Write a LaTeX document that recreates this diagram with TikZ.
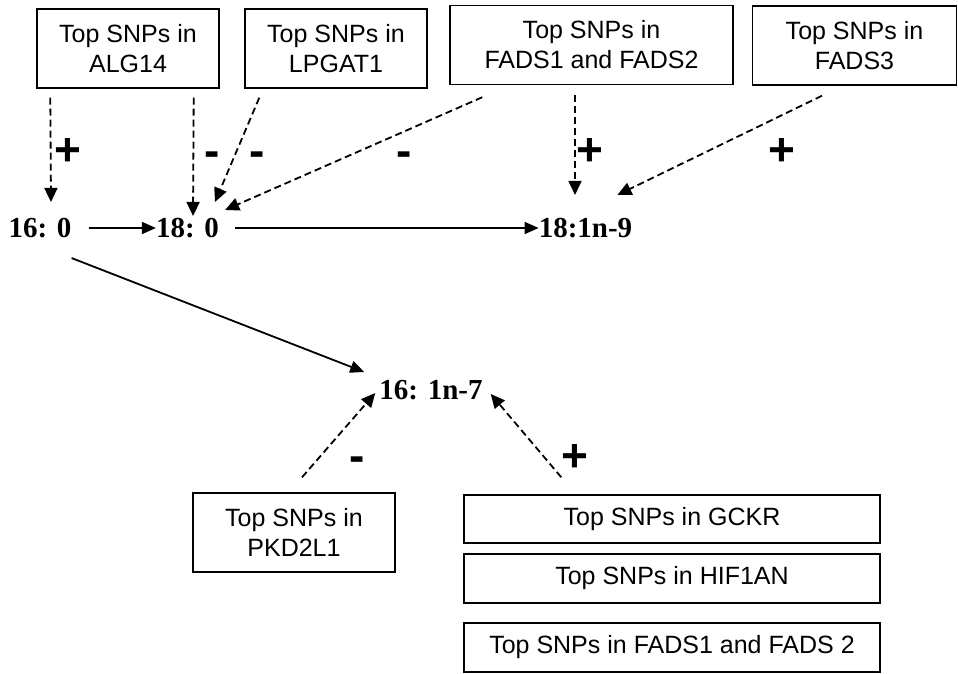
\documentclass[tikz,border=0pt]{standalone}
\usepackage{fontspec}
\setmainfont{Liberation Serif}
\setsansfont{Liberation Sans}
\usetikzlibrary{arrows.meta}
\begin{document}
\begin{tikzpicture}[x=1pt,y=1pt,
  box/.style={draw,line width=1.4pt,inner sep=0pt,align=center,font=\sffamily\fontsize{25}{30}\selectfont},
  acid/.style={inner sep=0pt,font=\bfseries\fontsize{29}{30}\selectfont},
  sgn/.style={inner sep=0pt,font=\sffamily\bfseries\fontsize{46}{46}\selectfont},
  solidarr/.style={line width=1.8pt,-{Triangle[length=14pt,width=12pt]}},
  dasharr/.style={line width=1.8pt,dash pattern=on 7pt off 4pt,-{Triangle[length=14pt,width=13pt]}}]
\useasboundingbox (0,0) rectangle (958,-673);
% boxes
\node[box,minimum width=182pt,minimum height=79pt] (alg) at (128,-48.5) {Top SNPs in\\ALG14};
\node[box,minimum width=182pt,minimum height=79pt] (lpg) at (336,-48.5) {Top SNPs in\\LPGAT1};
\node[box,minimum width=283pt,minimum height=79pt] (fab) at (591.5,-45) {Top SNPs in\\FADS1 and FADS2};
\node[box,minimum width=204pt,minimum height=79pt] (fc) at (854.5,-45.5) {Top SNPs in\\FADS3};
\node[box,minimum width=202pt,minimum height=79pt] (pkd) at (294,-532.5) {Top SNPs in\\PKD2L1};
\node[box,minimum width=416pt,minimum height=48pt] (gck) at (672,-519) {Top SNPs in GCKR};
\node[box,minimum width=416pt,minimum height=49pt] (hif) at (672,-578.5) {Top SNPs in HIF1AN};
\node[box,minimum width=416pt,minimum height=49pt] (fad) at (672,-647.5) {Top SNPs in FADS1 and FADS 2};
% acids
\node[acid] (a160) at (40,-228) {16: 0};
\node[acid] (a180) at (187.5,-228) {18: 0};
\node[acid] (a181) at (585.5,-228) {18:1n-9};
\node[acid] (a161) at (431,-390) {16: 1n-7};
% solid arrows
\draw[solidarr,shorten <=17pt] (a160.east) -- (a180.west);
\draw[solidarr,shorten <=16pt] (a180.east) -- (a181.west);
\draw[solidarr] ([yshift=-20pt]a160.south east) -- ([shift={(-15pt,8pt)}]a161.north west);
% dashed arrows
\draw[dasharr] ([shift={(14pt,-9pt)}]alg.south west) -- ([shift={(11pt,16pt)}]a160.north);
\draw[dasharr] ([shift={(-26pt,-9pt)}]alg.south east) -- ([shift={(5.5pt,2pt)}]a180.north);
\draw[dasharr] ([shift={(15pt,-9pt)}]lpg.south west) -- ([shift={(27.5pt,16pt)}]a180.north);
\draw[dasharr] ([shift={(33pt,-12pt)}]fab.south west) -- ([shift={(6pt,8pt)}]a180.north east);
\draw[dasharr] ([shift={(-16.5pt,-10pt)}]fab.south) -- ([shift={(-10.5pt,23pt)}]a181.north);
\draw[dasharr] ([shift={(-32.5pt,-10pt)}]fc.south) -- ([shift={(-15pt,23pt)}]a181.north east);
\draw[dasharr] ([shift={(8pt,15pt)}]pkd.north) -- ([shift={(-4pt,-3pt)}]a161.west);
\draw[dasharr] ([shift={(98pt,17pt)}]gck.north west) -- ([shift={(8pt,-4pt)}]a161.east);
% signs
\node[sgn] (s1) at (68,-152) {+};
\node[sgn] (s2) at (212,-159) {-};
\node[sgn] (s3) at (257,-159) {-};
\node[sgn] (s4) at (404,-159) {-};
\node[sgn] (s5) at (590,-152) {+};
\node[sgn] (s6) at (782,-152) {+};
\node[sgn] (s7) at (357,-464) {-};
\node[sgn] (s8) at (575,-458) {+};
\end{tikzpicture}
\end{document}
